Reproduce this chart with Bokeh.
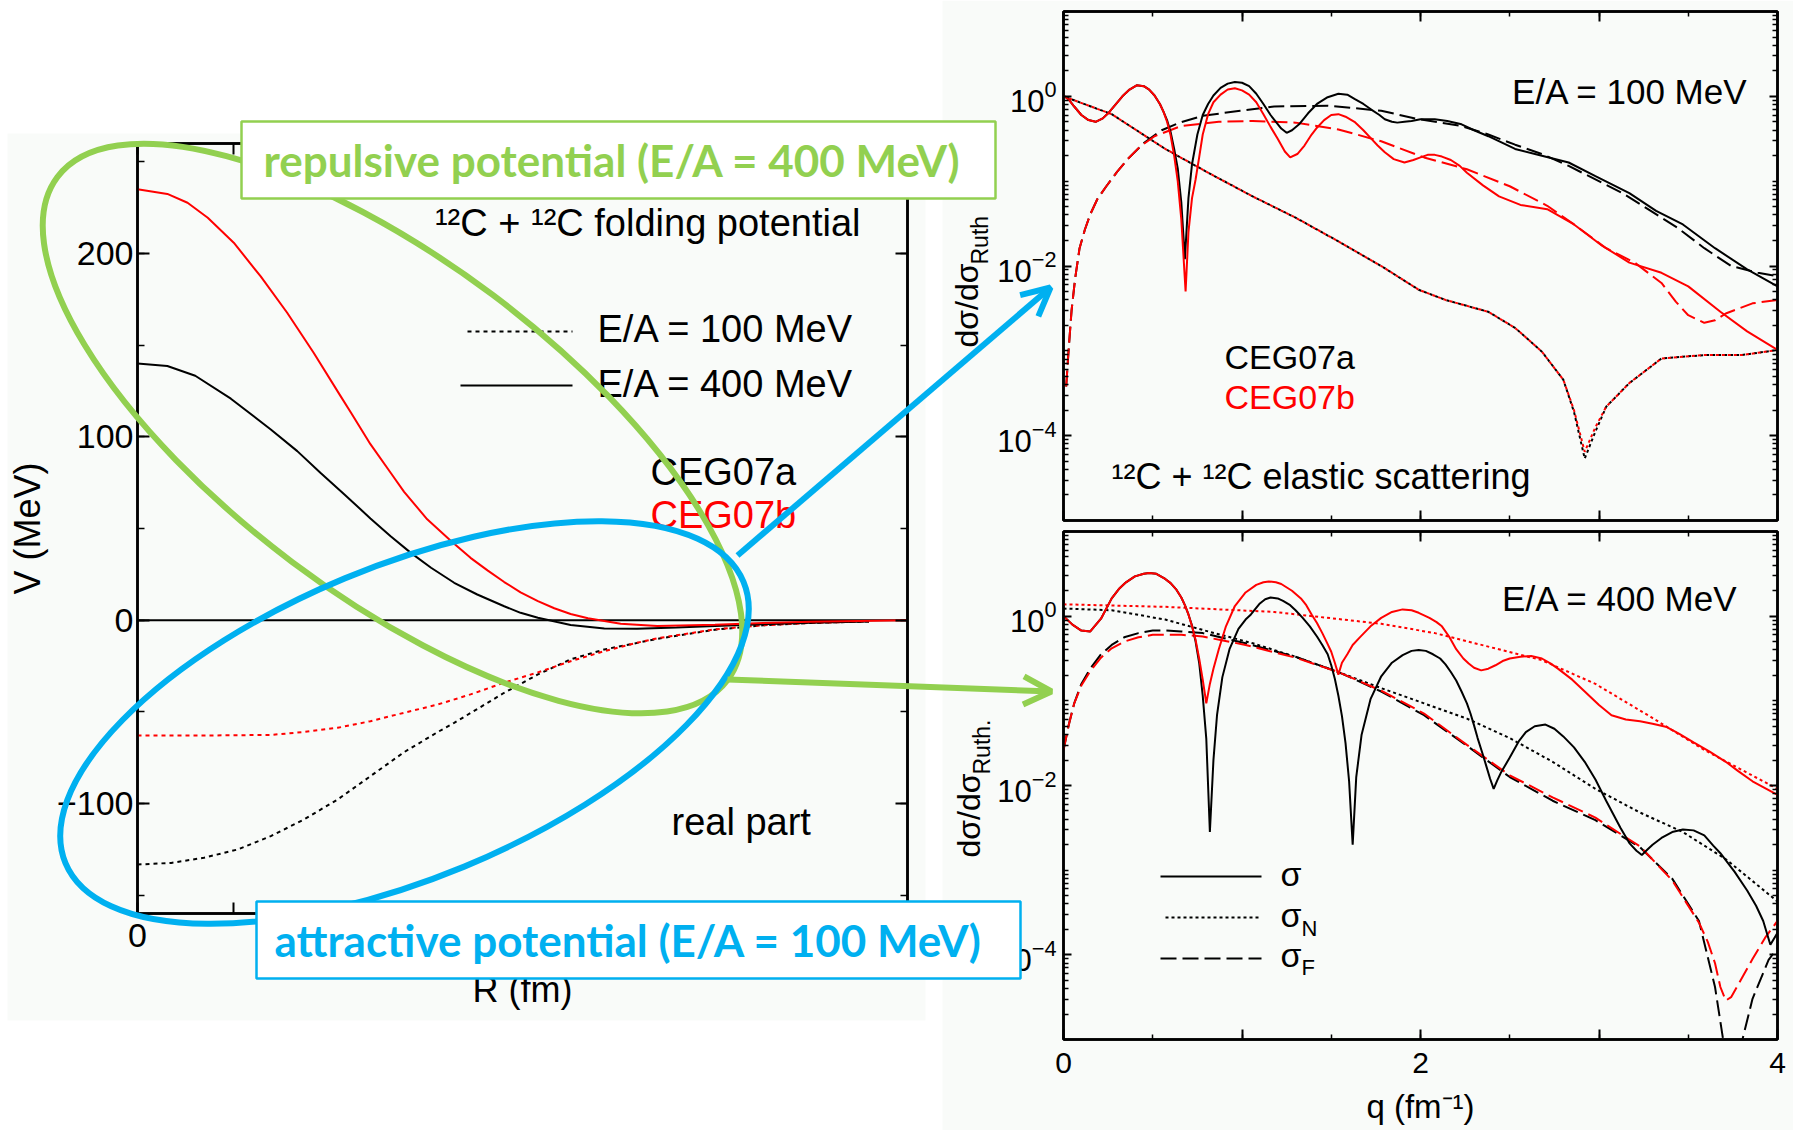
import numpy as np
from bokeh.plotting import figure
from bokeh.layouts import column
from bokeh.models import (Range1d, LinearAxis, LogAxis, FixedTicker, SingleIntervalTicker,
                          CustomJSTickFormatter, Arrow, OpenHead, Span, GridBox)
from bokeh.core.properties import value
from bokeh.embed import file_html
from bokeh.resources import INLINE

W, H = 1793, 1130
SANS = "Liberation Sans"
GREEN = "#92d050"
BLUE = "#00b0f0"
RED = "#ff0000"
BG = "#f9fbf9"

# ---------------- left panel: 12C+12C folding potential V(R) (MeV) ----------------
R_a400 = [0, 0.31, 0.6, 0.97, 1.385, 1.66, 1.9, 2.15, 2.42, 2.63, 2.84, 3.05, 3.29, 3.53, 3.81, 3.98,
          4.16, 4.36, 4.5, 4.85, 5.19, 5.6, 6.0, 6.5, 7.0, 7.6]
V_a400 = [140, 138.6, 133.3, 120.8, 104, 92.2, 80.4, 68.6, 55.5, 45.8, 36.7, 28.6, 20.4, 14.0, 7.6, 4.0,
          1.3, -1.0, -2.6, -4.5, -4.7, -4.0, -3.2, -2.2, -1.4, -0.7]
R_b400 = [0, 0.31, 0.52, 0.73, 1.0, 1.28, 1.555, 1.83, 2.11, 2.22, 2.42, 2.63, 2.77, 3.01, 3.26, 3.46, 3.64,
          3.81, 3.98, 4.16, 4.33, 4.5, 4.68, 5.02, 5.4, 6.0, 6.5, 7.0, 7.5, 8.0]
V_b400 = [235, 232.5, 227.7, 219.5, 205.9, 187.5, 167.7, 145.9, 122.2, 113, 96, 80.4, 70, 55, 43, 34, 27,
          20.8, 15.2, 10.4, 6.5, 3.4, 1.0, -2.0, -3.2, -2.5, -1.6, -0.9, -0.4, -0.1]
R_a100 = [0, 0.35, 0.69, 1.04, 1.385, 1.73, 2.08, 2.42, 2.77, 3.12, 3.29, 3.64, 3.81, 4.16, 4.5, 4.85, 5.4,
          6.0, 6.5, 7.0, 7.6]
V_a100 = [-133.3, -132.4, -129.6, -125.1, -117.8, -108.7, -97.8, -85.1, -72.0, -61.0, -56.0, -45.0, -39.6,
          -29.6, -21.4, -16.0, -10.2, -5.2, -2.8, -1.5, -0.7]
R_b100 = [0, 0.7, 1.385, 1.73, 2.08, 2.42, 2.77, 3.12, 3.46, 3.81, 4.16, 4.5, 4.85, 5.19, 5.4, 6.0, 6.5, 7.0,
          7.6]
V_b100 = [-62.9, -62.9, -62.6, -61.0, -58.7, -55.1, -50.5, -46.0, -40.5, -34.1, -28.5, -22.4, -16.9, -12.3,
          -9.9, -5.0, -2.8, -1.5, -0.7]

# ---------------- top right: E/A = 100 MeV, log10(dsigma/dsigma_Ruth) ----------------
q_t_sig_a = [0, 0.03, 0.06, 0.10, 0.14, 0.18, 0.22, 0.25, 0.29, 0.33, 0.37, 0.41, 0.45, 0.48, 0.51, 0.54, 0.56,
             0.58, 0.60, 0.62, 0.64, 0.66, 0.68, 0.70, 0.72, 0.75, 0.78, 0.81, 0.84, 0.88, 0.92, 0.96, 1.00,
             1.04, 1.08, 1.12, 1.16, 1.19, 1.22, 1.25, 1.28, 1.32, 1.37, 1.42, 1.48, 1.54, 1.59, 1.63, 1.68,
             1.72, 1.77, 1.80, 1.84, 1.87, 1.91, 1.95, 2.00, 2.08, 2.15, 2.23, 2.30, 2.38, 2.53, 2.68, 2.83,
             2.98, 3.17, 3.32, 3.47, 3.65, 3.83, 4.00]
lg_t_sig_a = [0.01, -0.04, -0.12, -0.22, -0.28, -0.30, -0.26, -0.20, -0.10, 0.0, 0.08, 0.13, 0.12, 0.08, 0.01,
              -0.09, -0.18, -0.28, -0.42, -0.62, -0.85, -1.25, -1.92, -1.20, -0.80, -0.45, -0.22, -0.09, 0.01,
              0.10, 0.15, 0.17, 0.16, 0.12, 0.03, -0.09, -0.22, -0.30, -0.38, -0.43, -0.40, -0.33, -0.20, -0.09,
              -0.01, 0.03, 0.02, -0.03, -0.09, -0.15, -0.22, -0.27, -0.30, -0.31, -0.30, -0.29, -0.27, -0.27,
              -0.29, -0.33, -0.40, -0.47, -0.62, -0.70, -0.78, -0.94, -1.14, -1.35, -1.51, -1.79, -2.04, -2.24]
q_t_sig_b = [0, 0.03, 0.06, 0.10, 0.14, 0.18, 0.22, 0.25, 0.29, 0.33, 0.37, 0.41, 0.45, 0.48, 0.51, 0.54, 0.56,
             0.58, 0.60, 0.62, 0.64, 0.66, 0.684, 0.70, 0.72, 0.74, 0.76, 0.78, 0.81, 0.84, 0.88, 0.92, 0.96,
             1.00, 1.04, 1.08, 1.12, 1.16, 1.20, 1.24, 1.27, 1.31, 1.35, 1.39, 1.42, 1.46, 1.50, 1.54, 1.58,
             1.63, 1.68, 1.72, 1.76, 1.80, 1.85, 1.91, 1.96, 2.00, 2.04, 2.08, 2.12, 2.17, 2.22, 2.26, 2.35,
             2.44, 2.56, 2.71, 2.86, 3.01, 3.17, 3.35, 3.50, 3.68, 3.83, 4.00]
lg_t_sig_b = [0.01, -0.04, -0.12, -0.22, -0.28, -0.30, -0.26, -0.20, -0.10, 0.0, 0.08, 0.13, 0.12, 0.08, 0.01,
              -0.09, -0.18, -0.30, -0.46, -0.70, -1.00, -1.45, -2.30, -1.60, -1.20, -0.98, -0.72, -0.45, -0.21,
              -0.07, 0.02, 0.08, 0.095, 0.07, 0.02, -0.07, -0.21, -0.36, -0.50, -0.65, -0.72, -0.68, -0.58,
              -0.45, -0.37, -0.28, -0.22, -0.21, -0.24, -0.30, -0.40, -0.49, -0.58, -0.66, -0.74, -0.78, -0.75,
              -0.72, -0.69, -0.69, -0.71, -0.75, -0.82, -0.90, -1.05, -1.18, -1.28, -1.33, -1.51, -1.75, -1.96,
              -2.08, -2.24, -2.54, -2.77, -2.99]
q_t_sigF_a = [0.015, 0.03, 0.045, 0.065, 0.09, 0.12, 0.15, 0.19, 0.24, 0.30, 0.36, 0.45, 0.55, 0.65, 0.78, 0.99,
              1.18, 1.48, 1.78, 1.99, 2.23, 2.38, 2.53, 2.68, 2.83, 2.98, 3.13, 3.29, 3.44, 3.59, 3.74, 3.89,
              4.00]
lg_t_sigF_a = [-3.42, -2.95, -2.53, -2.15, -1.79, -1.57, -1.39, -1.21, -1.06, -0.89, -0.74, -0.55, -0.40, -0.31,
               -0.23, -0.17, -0.12, -0.11, -0.17, -0.27, -0.35, -0.45, -0.57, -0.68, -0.82, -0.98, -1.14, -1.35,
               -1.55, -1.79, -2.00, -2.08, -2.12]
q_t_sigF_b = [0.015, 0.03, 0.045, 0.065, 0.09, 0.12, 0.15, 0.19, 0.24, 0.30, 0.36, 0.43, 0.51, 0.66, 0.87, 1.06,
              1.30, 1.54, 1.78, 2.02, 2.26, 2.50, 2.71, 2.86, 3.04, 3.20, 3.35, 3.43, 3.50, 3.59, 3.65, 3.71,
              3.86, 4.00]
lg_t_sigF_b = [-3.42, -2.95, -2.53, -2.15, -1.79, -1.57, -1.39, -1.21, -1.06, -0.89, -0.74, -0.59, -0.47, -0.35,
               -0.30, -0.29, -0.31, -0.39, -0.53, -0.72, -0.86, -1.06, -1.29, -1.51, -1.79, -1.96, -2.20, -2.42,
               -2.58, -2.67, -2.64, -2.56, -2.44, -2.40]
q_t_sigN = [0, 0.27, 0.57, 0.81, 1.06, 1.30, 1.54, 1.78, 1.99, 2.14, 2.38, 2.53, 2.68, 2.80, 2.86, 2.92, 2.98,
            3.04, 3.17, 3.35, 3.59, 3.80, 4.00]
lg_t_sigN_a = [0.0, -0.21, -0.62, -0.90, -1.18, -1.43, -1.71, -2.00, -2.28, -2.40, -2.54, -2.73, -3.01, -3.34,
               -3.72, -4.27, -3.95, -3.66, -3.38, -3.09, -3.05, -3.05, -2.99]
lg_t_sigN_b = [0.0, -0.21, -0.62, -0.90, -1.18, -1.43, -1.71, -2.00, -2.28, -2.40, -2.54, -2.73, -3.01, -3.34,
               -3.70, -4.19, -3.90, -3.66, -3.38, -3.09, -3.05, -3.05, -2.99]

# ---------------- bottom right: E/A = 400 MeV ----------------
q_b_sig_a = [0, 0.05, 0.10, 0.15, 0.21, 0.27, 0.31, 0.35, 0.40, 0.45, 0.48, 0.52, 0.57, 0.60, 0.63, 0.66, 0.68,
             0.70, 0.72, 0.74, 0.76, 0.78, 0.80, 0.82, 0.84, 0.86, 0.89, 0.93, 0.98, 1.02, 1.05, 1.10, 1.13,
             1.16, 1.20, 1.23, 1.27, 1.30, 1.34, 1.38, 1.42, 1.45, 1.48, 1.50, 1.52, 1.54, 1.56, 1.58, 1.60,
             1.62, 1.64, 1.67, 1.72, 1.78, 1.84, 1.90, 1.95, 1.99, 2.03, 2.07, 2.11, 2.14, 2.17, 2.20, 2.23,
             2.26, 2.28, 2.30, 2.32, 2.35, 2.37, 2.39, 2.41, 2.43, 2.45, 2.50, 2.55, 2.59, 2.64, 2.70, 2.75,
             2.80, 2.86, 2.92, 2.98, 3.04, 3.08, 3.12, 3.17, 3.21, 3.24, 3.27, 3.30, 3.35, 3.41, 3.47, 3.53,
             3.59, 3.64, 3.68, 3.76, 3.83, 3.88, 3.92, 3.96, 4.00]
lg_b_sig_a = [0.0, -0.10, -0.17, -0.18, -0.03, 0.21, 0.32, 0.40, 0.47, 0.50, 0.51, 0.50, 0.44, 0.39, 0.32, 0.22,
              0.13, 0.02, -0.11, -0.30, -0.55, -0.94, -1.45, -2.55, -1.70, -1.17, -0.72, -0.39, -0.15, -0.04,
              0.02, 0.15, 0.20, 0.22, 0.21, 0.18, 0.13, 0.07, -0.02, -0.12, -0.24, -0.34, -0.45, -0.58, -0.74,
              -0.94, -1.18, -1.50, -1.95, -2.70, -1.90, -1.40, -0.98, -0.71, -0.55, -0.46, -0.41, -0.40, -0.41,
              -0.45, -0.50, -0.57, -0.66, -0.76, -0.89, -1.03, -1.15, -1.29, -1.44, -1.64, -1.78, -1.92, -2.04,
              -1.94, -1.85, -1.67, -1.48, -1.37, -1.30, -1.28, -1.33, -1.42, -1.55, -1.72, -1.93, -2.18, -2.34,
              -2.50, -2.68, -2.77, -2.82, -2.76, -2.70, -2.62, -2.55, -2.52, -2.53, -2.59, -2.71, -2.80, -3.02,
              -3.24, -3.42, -3.60, -3.88, -3.74]
q_b_sig_b = [0, 0.05, 0.10, 0.15, 0.21, 0.27, 0.31, 0.35, 0.40, 0.45, 0.48, 0.52, 0.57, 0.60, 0.63, 0.66, 0.68,
             0.70, 0.72, 0.74, 0.76, 0.78, 0.80, 0.82, 0.84, 0.87, 0.91, 0.96, 1.02, 1.08, 1.12, 1.15, 1.19,
             1.22, 1.28, 1.33, 1.36, 1.39, 1.42, 1.45, 1.48, 1.50, 1.52, 1.54, 1.56, 1.59, 1.62, 1.66, 1.72,
             1.78, 1.84, 1.90, 1.95, 1.99, 2.05, 2.09, 2.12, 2.16, 2.20, 2.24, 2.27, 2.30, 2.34, 2.38, 2.42,
             2.46, 2.50, 2.56, 2.62, 2.68, 2.73, 2.77, 2.85, 2.92, 3.00, 3.07, 3.15, 3.23, 3.30, 3.38, 3.45,
             3.53, 3.62, 3.71, 3.78, 3.86, 3.93, 4.00]
lg_b_sig_b = [0.0, -0.10, -0.17, -0.18, -0.03, 0.21, 0.32, 0.40, 0.47, 0.50, 0.51, 0.50, 0.44, 0.39, 0.32, 0.22,
              0.13, 0.02, -0.12, -0.28, -0.50, -0.75, -1.03, -0.80, -0.62, -0.39, -0.12, 0.12, 0.28, 0.37, 0.40,
              0.41, 0.40, 0.38, 0.30, 0.21, 0.13, 0.02, -0.08, -0.20, -0.33, -0.42, -0.55, -0.69, -0.55, -0.45,
              -0.34, -0.25, -0.12, -0.02, 0.05, 0.08, 0.07, 0.04, -0.02, -0.07, -0.12, -0.24, -0.39, -0.50,
              -0.56, -0.61, -0.64, -0.62, -0.58, -0.53, -0.50, -0.48, -0.47, -0.50, -0.56, -0.62, -0.75, -0.89,
              -1.05, -1.17, -1.22, -1.24, -1.27, -1.31, -1.39, -1.49, -1.60, -1.72, -1.83, -1.95, -2.03, -2.11]
q_b_sigN_a = [0, 0.27, 0.57, 0.81, 1.06, 1.30, 1.54, 1.78, 2.02, 2.26, 2.50, 2.74, 2.98, 3.23, 3.47, 3.71, 4.00]
lg_b_sigN_a = [0.09, 0.07, -0.04, -0.18, -0.32, -0.48, -0.66, -0.85, -1.03, -1.21, -1.44, -1.72, -2.04, -2.32,
               -2.55, -2.87, -3.37]
q_b_sigN_b = [0, 0.57, 1.18, 1.78, 2.08, 2.38, 2.68, 2.98, 3.29, 3.59, 4.00]
lg_b_sigN_b = [0.14, 0.11, 0.05, -0.09, -0.20, -0.36, -0.52, -0.80, -1.19, -1.58, -2.04]
q_b_sigF_a = [0, 0.03, 0.06, 0.10, 0.15, 0.21, 0.27, 0.34, 0.42, 0.50, 0.57, 0.66, 0.78, 0.90, 1.02, 1.30, 1.54,
              1.78, 2.02, 2.26, 2.50, 2.74, 2.98, 3.23, 3.41, 3.56, 3.65, 3.71, 3.75, 3.78, 3.86, 3.95, 4.00]
lg_b_sigF_a = [-1.58, -1.28, -1.03, -0.80, -0.62, -0.45, -0.34, -0.25, -0.20, -0.17, -0.17, -0.18, -0.20, -0.26,
               -0.32, -0.48, -0.66, -0.89, -1.17, -1.53, -1.90, -2.18, -2.41, -2.73, -3.10, -3.60, -4.38, -5.20,
               -6.00, -5.20, -4.52, -4.06, -3.92]
q_b_sigF_b = [0, 0.03, 0.06, 0.10, 0.15, 0.21, 0.27, 0.34, 0.42, 0.50, 0.57, 0.66, 0.78, 0.90, 1.02, 1.30, 1.54,
              1.78, 2.02, 2.26, 2.50, 2.74, 2.98, 3.23, 3.41, 3.56, 3.61, 3.65, 3.68, 3.71, 3.74, 3.78, 3.86,
              3.93, 4.00]
lg_b_sigF_b = [-1.58, -1.28, -1.03, -0.82, -0.65, -0.49, -0.38, -0.30, -0.25, -0.22, -0.22, -0.22, -0.24, -0.29,
               -0.34, -0.49, -0.66, -0.88, -1.15, -1.52, -1.88, -2.14, -2.38, -2.72, -3.12, -3.62, -3.85, -4.10,
               -4.38, -4.54, -4.50, -4.35, -4.05, -3.80, -3.60]


def lin(lg):
    return np.power(10.0, np.asarray(lg, dtype=float))


def make_fig(x_range, y_range, left, right, top, bottom, **kw):
    p = figure(width=W, height=H, x_range=x_range, y_range=y_range,
               output_backend="svg", toolbar_location=None,
               min_border_left=left, min_border_right=W - right,
               min_border_top=top, min_border_bottom=H - bottom,
               background_fill_alpha=0, border_fill_alpha=0,
               outline_line_color="black", outline_line_width=2.5, **kw)
    p.grid.visible = False
    return p


def style(ax, size, tin, tmin):
    ax.axis_line_width = 2.5
    ax.major_tick_in = tin
    ax.major_tick_out = 0
    ax.minor_tick_in = tmin
    ax.minor_tick_out = 0
    ax.major_tick_line_width = 2
    ax.minor_tick_line_width = 1.5
    ax.major_label_text_font = SANS
    ax.major_label_text_font_size = size
    ax.major_label_text_color = "black"
    ax.axis_label_text_font = SANS
    ax.axis_label_text_font_style = "normal"
    ax.axis_label_text_color = "black"


EVEN = "var r = Math.round(tick); return (r % 2 === 0) ? String(r) : '';"

# ---------------- background ----------------
bg = figure(width=W, height=H, x_range=Range1d(0, W), y_range=Range1d(H, 0), x_axis_type=None,
            y_axis_type=None, min_border=0, output_backend="svg", toolbar_location=None,
            outline_line_color=None, background_fill_color="white", border_fill_color="white")
bg.quad(left=[7, 942], right=[925, W], top=[133, 0], bottom=[1020, H], fill_color=BG, line_color=None)

# ---------------- left panel ----------------
pl = make_fig(Range1d(0, 8), Range1d(-160, 260), 137, 907, 143, 913)
xb = pl.xaxis[0]
xb.ticker = SingleIntervalTicker(interval=1, num_minor_ticks=0)
xb.formatter = CustomJSTickFormatter(code=EVEN)
style(xb, "34px", 11, 6)
xb.axis_label = "R (fm)"
xb.axis_label_text_font_size = "36px"
xb.major_label_standoff = 10
xb.axis_label_standoff = 19
xt = LinearAxis(ticker=SingleIntervalTicker(interval=1, num_minor_ticks=0))
style(xt, "34px", 11, 6)
xt.major_label_text_color = None
pl.add_layout(xt, "above")
yl = pl.yaxis[0]
yl.ticker = SingleIntervalTicker(interval=100, num_minor_ticks=2)
style(yl, "34px", 12, 7)
yl.axis_label = "V (MeV)"
yl.axis_label_text_font_size = "36px"
yl.major_label_standoff = 4
yl.axis_label_standoff = 6
yr = LinearAxis(ticker=SingleIntervalTicker(interval=100, num_minor_ticks=2))
style(yr, "34px", 12, 7)
yr.major_label_text_color = None
pl.add_layout(yr, "right")
pl.add_layout(Span(location=0, dimension="width", line_color="black", line_width=2, level="underlay"))
pl.line(R_a100, V_a100, line_color="black", line_width=2, line_dash="4 4")
pl.line(R_b100, V_b100, line_color=RED, line_width=2, line_dash="4 4")
pl.line(R_a400, V_a400, line_color="black", line_width=2)
pl.line(R_b400, V_b400, line_color=RED, line_width=2)

# ---------------- right panels ----------------
LOG_MAJOR = [1e-4, 1e-2, 1e0]
LOG_MINOR = [m * 10.0 ** k for k in range(-5, 1) for m in range(2, 10)] + [1e-5, 1e-3, 1e-1, 1e1]


def log_panel(top, bottom, xlabels):
    p = make_fig(Range1d(0, 4), Range1d(1e-5, 1e1), 1063, 1777, top, bottom, y_axis_type="log")
    ya = p.yaxis[0]
    ya.ticker = FixedTicker(ticks=LOG_MAJOR, minor_ticks=LOG_MINOR)
    style(ya, "31px", 8, 5)
    ya.major_label_standoff = 7
    yb = LogAxis(ticker=FixedTicker(ticks=LOG_MAJOR, minor_ticks=LOG_MINOR))
    style(yb, "31px", 8, 5)
    yb.major_label_text_color = None
    p.add_layout(yb, "right")
    xa = p.xaxis[0]
    xa.ticker = SingleIntervalTicker(interval=1, num_minor_ticks=2)
    xa.formatter = CustomJSTickFormatter(code=EVEN)
    style(xa, "30px", 10, 5)
    xa.major_label_standoff = 13
    if xlabels:
        xa.axis_label = "q (fm\u207b\u00b9)"
        xa.axis_label_text_font_size = "33px"
        xa.axis_label_standoff = 12
    else:
        xa.major_label_text_color = None
    xc = LinearAxis(ticker=SingleIntervalTicker(interval=1, num_minor_ticks=2))
    style(xc, "30px", 10, 5)
    xc.major_label_text_color = None
    p.add_layout(xc, "above")
    return p


pt = log_panel(11, 520, False)
pt.line(q_t_sigN, lin(lg_t_sigN_a), line_color="black", line_width=2, line_dash="3 3", line_dash_offset=3)
pt.line(q_t_sigN, lin(lg_t_sigN_b), line_color=RED, line_width=2, line_dash="3 3")
pt.line(q_t_sigF_a, lin(lg_t_sigF_a), line_color="black", line_width=2, line_dash="16 6")
pt.line(q_t_sigF_b, lin(lg_t_sigF_b), line_color=RED, line_width=2, line_dash="16 6")
pt.line(q_t_sig_a, lin(lg_t_sig_a), line_color="black", line_width=2)
pt.line(q_t_sig_b, lin(lg_t_sig_b), line_color=RED, line_width=2)

pb = log_panel(531, 1039, True)
pb.line(q_b_sigN_a, lin(lg_b_sigN_a), line_color="black", line_width=2, line_dash="3 3")
pb.line(q_b_sigN_b, lin(lg_b_sigN_b), line_color=RED, line_width=2, line_dash="3 3")
pb.line(q_b_sigF_a, lin(lg_b_sigF_a), line_color="black", line_width=2, line_dash="16 6")
pb.line(q_b_sigF_b, lin(lg_b_sigF_b), line_color=RED, line_width=2, line_dash="16 6")
pb.line(q_b_sig_a, lin(lg_b_sig_a), line_color="black", line_width=2)
pb.line(q_b_sig_b, lin(lg_b_sig_b), line_color=RED, line_width=2)

# ---------------- overlay (texts, ellipses, call-out boxes, arrows) ----------------
ov = figure(width=W, height=H, x_range=Range1d(0, W), y_range=Range1d(H, 0), x_axis_type=None,
            y_axis_type=None, min_border=0, output_backend="svg", toolbar_location=None,
            outline_line_color=None, background_fill_alpha=0, border_fill_alpha=0)
F = value(SANS)
SHIFT = 0.36  # baseline correction (em) for text drawn on the overlay


def txt(x, y, t, size, color="black", align="left", vertical=False, font=F, style_="normal"):
    if vertical:
        x, ang = x - SHIFT * size, np.pi / 2
    else:
        y, ang = y - SHIFT * size, 0.0
    ov.text(x=[x], y=[y], text=[t], text_font=font, text_font_size=f"{size}px", text_color=color,
            text_align=align, text_baseline="alphabetic", angle=ang, text_font_style=style_)


# left panel texts & legend
txt(860, 236, "\u00b9\u00b2C + \u00b9\u00b2C folding potential", 38, align="right")
ov.line([467, 572], [331, 331], line_color="black", line_width=2, line_dash="4 4")
ov.line([460, 572], [385, 385], line_color="black", line_width=2)
txt(597, 342, "E/A = 100 MeV", 38)
txt(597, 397, "E/A = 400 MeV", 38)
txt(650, 485, "CEG07a", 38)
txt(650, 528, "CEG07b", 38, color=RED)
txt(671, 835, "real part", 38)

# top right texts
txt(1748, 104, "E/A = 100 MeV", 35, align="right")
txt(1224, 369, "CEG07a", 34)
txt(1224, 409, "CEG07b", 34, color=RED)
txt(1111, 489, "\u00b9\u00b2C + \u00b9\u00b2C elastic scattering", 36)
txt(978, 347, "d\u03c3/d\u03c3", 32, vertical=True)
txt(988, 264, "Ruth", 23, vertical=True)

# bottom right texts & legend
txt(1738, 611, "E/A = 400 MeV", 35, align="right")
txt(980, 857, "d\u03c3/d\u03c3", 32, vertical=True)
txt(990, 774, "Ruth.", 23, vertical=True)
ov.line([1160, 1261], [876, 876], line_color="black", line_width=2)
ov.line([1165, 1261], [917, 917], line_color="black", line_width=2, line_dash="3 3")
ov.line([1160, 1261], [958, 958], line_color="black", line_width=2, line_dash="16 6")
txt(1280, 886, "\u03c3", 34)
txt(1280, 927, "\u03c3", 34)
txt(1301, 936, "N", 22)
txt(1280, 967, "\u03c3", 34)
txt(1301, 975, "F", 22)

# ellipses
ov.ellipse(x=[392], y=[428], width=[838], height=[334], angle=[-0.644], width_units="screen",
           height_units="screen", fill_color=None, line_color=GREEN, line_width=6)
ov.ellipse(x=[404], y=[722], width=[734], height=[312], angle=[0.393], width_units="screen",
           height_units="screen", fill_color=None, line_color=BLUE, line_width=6)

# call-out boxes
ov.quad(left=[241], right=[995], top=[121], bottom=[198], fill_color="white", line_color=GREEN, line_width=2.5)
ov.quad(left=[256], right=[1020], top=[901], bottom=[978], fill_color="white", line_color=BLUE, line_width=2.5)
LATO = value("Lato")
txt(263, 175, "repulsive potential (E/A = 400 MeV)", 44, color=GREEN, font=LATO, style_="bold")
txt(274, 955, "attractive potential (E/A = 100 MeV)", 44, color=BLUE, font=LATO, style_="bold")

# arrows
ov.add_layout(Arrow(end=OpenHead(size=28, line_color=BLUE, line_width=6), x_start=737, y_start=555,
                    x_end=1050, y_end=287, line_color=BLUE, line_width=6))
ov.add_layout(Arrow(end=OpenHead(size=28, line_color=GREEN, line_width=6), x_start=727, y_start=679,
                    x_end=1051, y_end=691, line_color=GREEN, line_width=6))

# each figure wrapped in its own column so that the grid does not align their frames
layers = [column(f) for f in (bg, pl, pt, pb, ov)]
layout = GridBox(children=[(c, 0, 0) for c in layers])

open("out.html", "w").write(file_html(layout, INLINE))
